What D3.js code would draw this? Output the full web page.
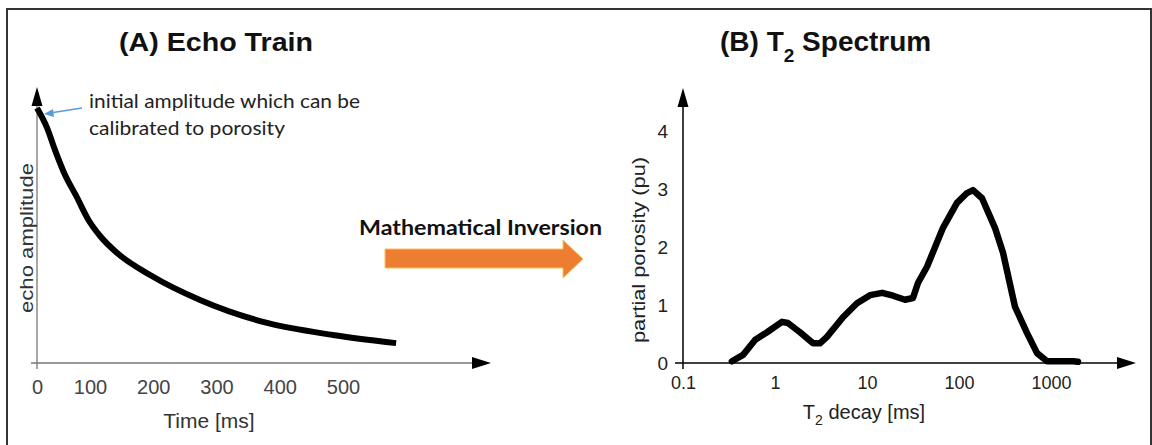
<!DOCTYPE html>
<html>
<head>
<meta charset="utf-8">
<script src="https://cdn.jsdelivr.net/npm/d3@7"></script>
<style>
  body { margin: 0; background: #fff; }
  svg { display: block; }
  text { font-family: "Liberation Sans", Arial, sans-serif; }
  .calibri { font-family: Lato, "Open Sans", sans-serif; }
</style>
</head>
<body>
<div id="chart"></div>
<script>
// (A) echo train: time in ms, amplitude relative to initial value
const echoTime = [0, 19, 34, 53, 74, 96, 116, 143, 195, 274, 380, 484, 584];
const echoAmp = [1.0, 0.922, 0.835, 0.737, 0.655, 0.565, 0.498, 0.431, 0.345, 0.247, 0.157, 0.110, 0.078];
const echoTicks = [0, 100, 200, 300, 400, 500];

// (B) T2 spectrum: T2 in ms, partial porosity in pu
const t2Values = [0.34, 0.45, 0.61, 0.82, 1.19, 1.38, 1.87, 2.59, 3.08, 3.67, 5.48, 7.78, 10.8, 14.6,
    19.2, 25.9, 31.6, 35.8, 44.9, 67, 95, 122, 142, 178, 246, 301, 406, 548, 705, 906, 1734, 1965];
const porosity = [0.03, 0.14, 0.40, 0.53, 0.71, 0.69, 0.53, 0.34, 0.34, 0.45, 0.79, 1.03, 1.17, 1.21,
    1.16, 1.09, 1.12, 1.38, 1.66, 2.33, 2.76, 2.93, 2.98, 2.84, 2.33, 1.90, 0.97, 0.52, 0.17, 0.03, 0.03, 0.02];
const t2Ticks = [0.1, 1, 10, 100, 1000];
const porTicks = [0, 1, 2, 3, 4];

const W = 1152, H = 445;

const svg = d3.select('#chart')
    .append('svg')
    .attr('width', W)
    .attr('height', H);

// outer frame
svg.append('rect')
    .attr('x', 7)
    .attr('y', 9)
    .attr('width', 1144)
    .attr('height', 460)
    .attr('fill', 'none')
    .attr('stroke', '#333')
    .attr('stroke-width', 2);

function arrowUp(g, x, y, color) {
    g.append('path')
        .attr('d', `M${x},${y} L${x - 5.5},${y + 19} L${x + 5.5},${y + 19} Z`)
        .attr('fill', color);
}
function arrowRight(g, x, y, color) {
    g.append('path')
        .attr('d', `M${x},${y} L${x - 19},${y - 6} L${x - 19},${y + 6} Z`)
        .attr('fill', color);
}

// ---------- panel A ----------
const xA = d3.scaleLinear().domain([0, 100, 500]).range([37, 90, 343]);
const yA = d3.scaleLinear().domain([0, 1]).range([363, 108]);

const gA = svg.append('g');

gA.append('line')
    .attr('x1', xA(0)).attr('x2', xA(0))
    .attr('y1', yA(0) + 6).attr('y2', 100)
    .attr('stroke', '#777').attr('stroke-width', 1.3);
arrowUp(gA, xA(0), 87, '#000');

gA.append('line')
    .attr('x1', xA(0) - 6).attr('x2', 480)
    .attr('y1', yA(0)).attr('y2', yA(0))
    .attr('stroke', '#777').attr('stroke-width', 1.3);
arrowRight(gA, 491, yA(0), '#000');

gA.append('g')
    .attr('transform', `translate(0, ${yA(0)})`)
    .call(d3.axisBottom(xA).tickValues(echoTicks).tickSize(0).tickPadding(17))
    .call(g => g.select('.domain').remove())
    .selectAll('text')
    .style('font-family', '"Liberation Sans", Arial, sans-serif')
    .style('font-size', '20px')
    .attr('fill', '#444');

gA.append('path')
    .datum(echoTime.map((t, i) => [t, echoAmp[i]]))
    .attr('d', d3.line().x(d => xA(d[0])).y(d => yA(d[1])).curve(d3.curveMonotoneX))
    .attr('fill', 'none')
    .attr('stroke', '#000')
    .attr('stroke-width', 6)
    .attr('stroke-linecap', 'butt');

gA.append('text')
    .attr('x', 216).attr('y', 51)
    .attr('text-anchor', 'middle')
    .attr('font-weight', 'bold')
    .attr('font-size', 26)
    .attr('textLength', 194)
    .attr('lengthAdjust', 'spacingAndGlyphs')
    .attr('fill', '#111')
    .text('(A) Echo Train');

gA.append('text')
    .attr('transform', 'translate(33, 238) rotate(-90)')
    .attr('text-anchor', 'middle')
    .attr('font-size', 18)
    .attr('textLength', 150)
    .attr('lengthAdjust', 'spacingAndGlyphs')
    .attr('fill', '#333')
    .text('echo amplitude');

gA.append('text')
    .attr('x', 209).attr('y', 428)
    .attr('text-anchor', 'middle')
    .attr('font-size', 21)
    .attr('fill', '#333')
    .text('Time [ms]');

// annotation for initial amplitude
gA.append('line')
    .attr('x1', 82).attr('y1', 108)
    .attr('x2', 50).attr('y2', 113)
    .attr('stroke', '#5b9bd5').attr('stroke-width', 1.5);
gA.append('path')
    .attr('d', 'M44,114 L53,109 L54,117 Z')
    .attr('fill', '#5b9bd5');

const note = gA.append('text')
    .attr('class', 'calibri')
    .attr('font-size', 19)
    .attr('fill', '#222');
note.append('tspan').attr('x', 89).attr('y', 108)
    .attr('textLength', 271).attr('lengthAdjust', 'spacingAndGlyphs')
    .text('initial amplitude which can be');
note.append('tspan').attr('x', 89).attr('y', 135)
    .attr('textLength', 196).attr('lengthAdjust', 'spacingAndGlyphs')
    .text('calibrated to porosity');

// ---------- inversion arrow ----------
svg.append('text')
    .attr('class', 'calibri')
    .attr('x', 359).attr('y', 235)
    .attr('font-size', 20)
    .attr('font-weight', 'bold')
    .attr('textLength', 243)
    .attr('lengthAdjust', 'spacingAndGlyphs')
    .attr('fill', '#111')
    .text('Mathematical Inversion');

svg.append('path')
    .attr('d', 'M385,249 L563,249 L563,240 L583,259 L563,278 L563,268 L385,268 Z')
    .attr('fill', '#ed7d31')
    .attr('stroke', '#f7c15a')
    .attr('stroke-width', 1);

// ---------- panel B ----------
const xB = d3.scaleLog().domain([0.1, 1000]).range([683, 1051]);
const yB = d3.scaleLinear().domain([0, 4]).range([363, 131]);

const gB = svg.append('g');

gB.append('line')
    .attr('x1', xB(0.1)).attr('x2', xB(0.1))
    .attr('y1', yB(0) + 6).attr('y2', 100)
    .attr('stroke', '#000').attr('stroke-width', 1.5);
arrowUp(gB, xB(0.1), 88, '#000');

gB.append('line')
    .attr('x1', xB(0.1) - 8).attr('x2', 1125)
    .attr('y1', yB(0)).attr('y2', yB(0))
    .attr('stroke', '#000').attr('stroke-width', 1.5);
arrowRight(gB, 1136, yB(0), '#000');

gB.append('g')
    .attr('transform', `translate(0, ${yB(0)})`)
    .call(d3.axisBottom(xB).tickValues(t2Ticks).tickFormat(d3.format('~g')).tickSize(0).tickPadding(13))
    .call(g => g.select('.domain').remove())
    .selectAll('text')
    .style('font-family', '"Liberation Sans", Arial, sans-serif')
    .style('font-size', '18px')
    .attr('fill', '#222');

gB.append('g')
    .attr('transform', `translate(${xB(0.1)}, 0)`)
    .call(d3.axisLeft(yB).tickValues(porTicks).tickFormat(d3.format('d')).tickSize(0).tickPadding(15))
    .call(g => g.select('.domain').remove())
    .selectAll('text')
    .style('font-family', '"Liberation Sans", Arial, sans-serif')
    .style('font-size', '19px')
    .attr('fill', '#222');

gB.append('path')
    .datum(t2Values.map((t, i) => [t, porosity[i]]))
    .attr('d', d3.line().x(d => xB(d[0])).y(d => yB(d[1])))
    .attr('fill', 'none')
    .attr('stroke', '#000')
    .attr('stroke-width', 6.5)
    .attr('stroke-linejoin', 'round')
    .attr('stroke-linecap', 'round');

const titleB = gB.append('text')
    .attr('x', 720).attr('y', 51)
    .attr('font-weight', 'bold')
    .attr('font-size', 28)
    .attr('fill', '#111');
titleB.append('tspan').text('(B) T');
titleB.append('tspan').attr('font-size', 19).attr('dy', 11).text('2');
titleB.append('tspan').attr('dy', -11).text(' Spectrum');

gB.append('text')
    .attr('transform', 'translate(645, 250) rotate(-90)')
    .attr('text-anchor', 'middle')
    .attr('font-size', 18)
    .attr('textLength', 186)
    .attr('lengthAdjust', 'spacingAndGlyphs')
    .attr('fill', '#222')
    .text('partial porosity (pu)');

const xLabB = gB.append('text')
    .attr('x', 864).attr('y', 419)
    .attr('text-anchor', 'middle')
    .attr('font-size', 20)
    .attr('fill', '#222');
xLabB.append('tspan').text('T');
xLabB.append('tspan').attr('font-size', 14).attr('dy', 6).text('2');
xLabB.append('tspan').attr('dy', -6).text(' decay [ms]');
</script>
</body>
</html>
